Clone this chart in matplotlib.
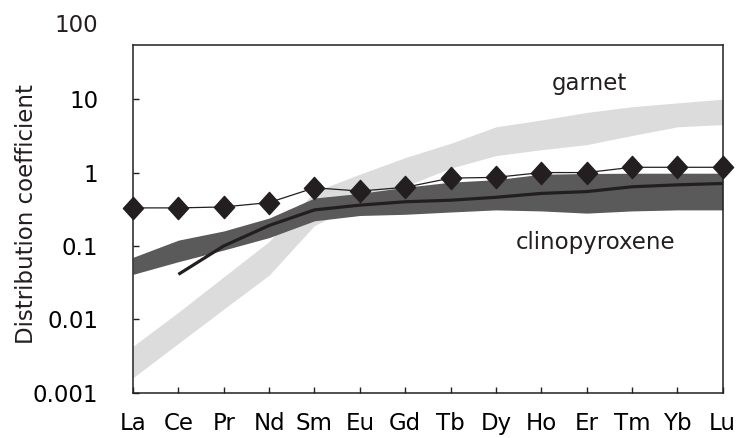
import numpy as np
import matplotlib
matplotlib.use("Agg")
import matplotlib.pyplot as plt
from matplotlib.path import Path

plt.rcParams['font.family'] = ['DejaVu Sans']

elements = ['La', 'Ce', 'Pr', 'Nd', 'Sm', 'Eu', 'Gd', 'Tb', 'Dy', 'Ho', 'Er', 'Tm', 'Yb', 'Lu']
sample_D = [0.33, 0.33, 0.34, 0.39, 0.62, 0.56, 0.63, 0.84, 0.86, 1.0, 1.0, 1.18, 1.18, 1.18]
cpx_mean = [np.nan, 0.041, 0.10, 0.19, 0.31, 0.36, 0.40, 0.42, 0.46, 0.52, 0.55, 0.64, 0.68, 0.71]
cpx_low = [0.041, 0.061, 0.088, 0.13, 0.22, 0.26, 0.27, 0.29, 0.31, 0.30, 0.28, 0.30, 0.31, 0.31]
cpx_high = [0.07, 0.12, 0.16, 0.24, 0.45, 0.52, 0.63, 0.74, 0.80, 0.95, 0.97, 0.98, 0.98, 0.98]
grt_low = [0.0016, 0.0047, 0.0138, 0.040, 0.19, 0.38, 0.65, 1.15, 1.7, 2.05, 2.4, 3.2, 4.2, 4.5]
grt_high = [0.0043, 0.0125, 0.038, 0.115, 0.55, 0.95, 1.6, 2.5, 4.2, 5.2, 6.6, 7.9, 8.9, 10.0]
ytick_vals = [0.001, 0.01, 0.1, 1, 10]
ytick_labels = ['0.001', '0.01', '0.1', '1', '10']

FS = 16.5
ink = '#231f20'

fig = plt.figure(figsize=(7.39, 4.38), dpi=100)
ax = fig.add_axes([0.18, 0.1034, 0.798, 0.7938])
x = np.arange(len(elements))

ax.fill_between(x, grt_low, grt_high, color='#dcdcdc', lw=0, zorder=1)
ax.fill_between(x, cpx_low, cpx_high, color='#5a5a5a', lw=0, zorder=2)
ax.plot(x, cpx_mean, color=ink, lw=2.3, zorder=3, solid_capstyle='butt')

diamond = Path([(0, 1.1), (1, 0), (0, -1.1), (-1, 0), (0, 1.1)],
               [Path.MOVETO, Path.LINETO, Path.LINETO, Path.LINETO, Path.CLOSEPOLY])
ax.plot(x, sample_D, color=ink, lw=0.9, marker=diamond, ms=16, mfc=ink, mec=ink,
        zorder=4, clip_on=False)

ax.set_yscale('log')
ax.set_ylim(0.001, 54.7)
ax.set_xlim(0, len(elements) - 1)
ax.set_xticks(x)
ax.set_xticklabels(elements, fontsize=FS)
ax.set_yticks(ytick_vals)
ax.set_yticklabels(ytick_labels, fontsize=FS)
ax.minorticks_off()
ax.tick_params(axis='both', direction='in', length=4.5, width=1.0, color=ink)
ax.tick_params(axis='y', pad=25)
ax.tick_params(axis='x', pad=14)
for s in ax.spines.values():
    s.set_color(ink)
    s.set_linewidth(1.1)

ax.annotate('100', xy=(0, 100), xycoords=('axes fraction', 'data'),
            xytext=(-25, 0), textcoords='offset points', ha='right', va='center',
            fontsize=FS, annotation_clip=False, color=ink)

ax.set_ylabel('Distribution coefficient', fontsize=FS, color=ink)
ax.yaxis.set_label_coords(-0.161, 0.515)
ax.text(10.07, 16.6, 'garnet', fontsize=FS, ha='center', va='center', color=ink)
ax.text(10.2, 0.113, 'clinopyroxene', fontsize=FS, ha='center', va='center', color=ink)

fig.savefig('out.png', dpi=100)
